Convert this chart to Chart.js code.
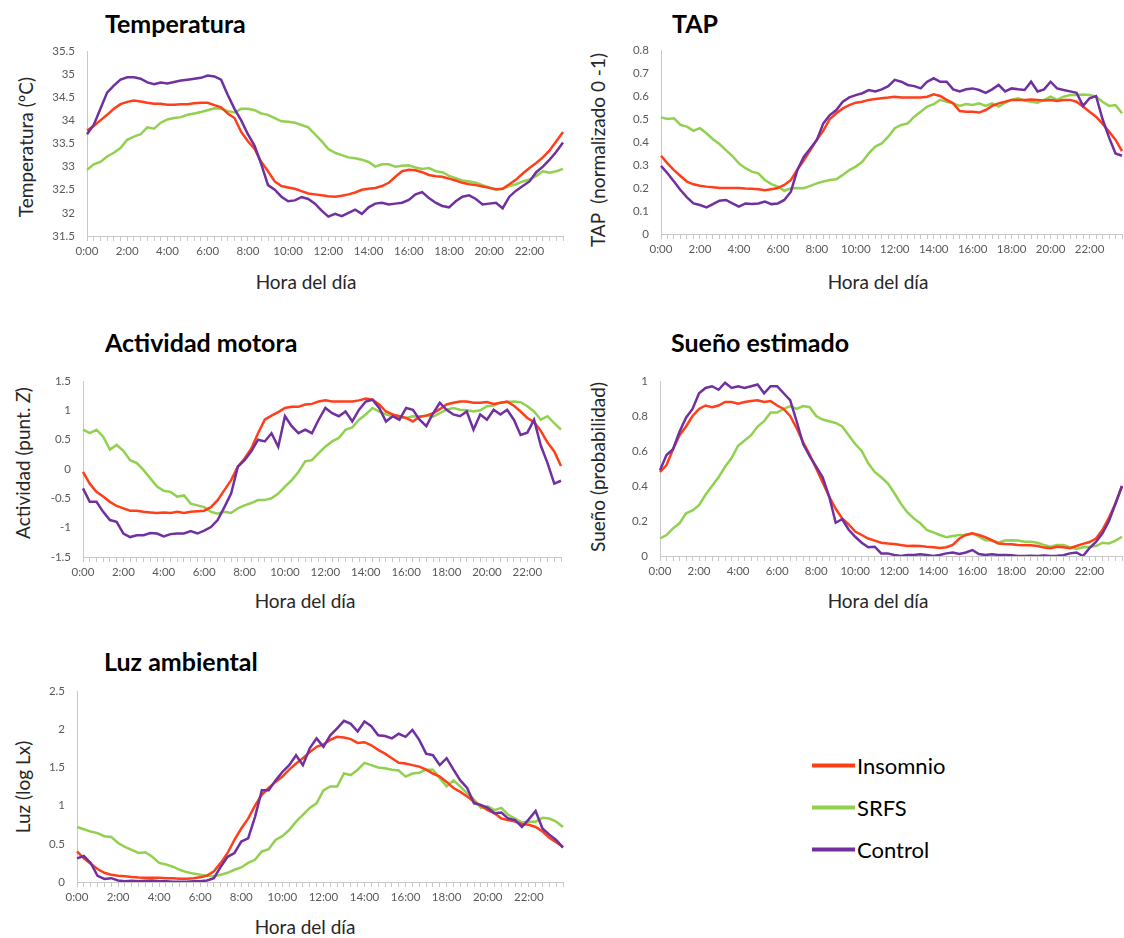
<!DOCTYPE html>
<html>
<head>
<meta charset="utf-8">
<script src="https://cdn.jsdelivr.net/npm/chart.js@4.4.1/dist/chart.umd.min.js"></script>
<style>
  body { margin: 0; background: #fff; }
  #page { position: relative; width: 1124px; height: 938px; overflow: hidden; font-family: Lato, "Open Sans", sans-serif; }
  .plot { position: absolute; }
  .head { position: absolute; font-weight: bold; font-size: 25px; color: #000; transform: translateY(-50%); white-space: nowrap; }
  .xt { position: absolute; font-size: 19px; color: #262626; transform: translate(-50%, -50%); white-space: nowrap; }
  .yt { position: absolute; font-size: 19px; color: #262626; transform: translate(-50%, -50%) rotate(-90deg); white-space: pre; }
  .leg { position: absolute; left: 812px; font-size: 22px; color: #000; display: flex; align-items: center; transform: translateY(-50%); }
  .leg span { display: inline-block; width: 43px; height: 4px; margin-right: 2px; }
</style>
</head>
<body>
<div id="page">
  <div class="head" style="left:105px;top:23px">Temperatura</div>
  <div class="head" style="left:672px;top:23px">TAP</div>
  <div class="head" style="left:105px;top:342px">Actividad motora</div>
  <div class="head" style="left:671px;top:342px">Sueño estimado</div>
  <div class="head" style="left:104px;top:661px">Luz ambiental</div>

  <div class="yt" style="left:25px;top:147px">Temperatura (ºC)</div>
  <div class="yt" style="left:597px;top:150px">TAP  (normalizado 0 -1)</div>
  <div class="yt" style="left:22px;top:463px">Actividad (punt. <i>Z</i>)</div>
  <div class="yt" style="left:597px;top:467px">Sueño (probabilidad)</div>
  <div class="yt" style="left:22px;top:787px">Luz (log Lx)</div>

  <div class="xt" style="left:306px;top:281px">Hora del día</div>
  <div class="xt" style="left:878px;top:281px">Hora del día</div>
  <div class="xt" style="left:305px;top:600px">Hora del día</div>
  <div class="xt" style="left:878px;top:600px">Hora del día</div>
  <div class="xt" style="left:305px;top:926px">Hora del día</div>

  <div class="leg" style="top:765px"><span style="background:#FF3F1A"></span>Insomnio</div>
  <div class="leg" style="top:807px"><span style="background:#92D050"></span>SRFS</div>
  <div class="leg" style="top:849px"><span style="background:#7030A0"></span>Control</div>
</div>
<script>
// etiquetas del eje x (cada 2 horas) y categorias cada 20 minutos
const hourTicks = ['0:00','2:00','4:00','6:00','8:00','10:00','12:00','14:00','16:00','18:00','20:00','22:00'];
const categories = [];
for (let i = 0; i < 72; i++) {
  const h = Math.floor(i / 3), m = (i % 3) * 20;
  categories.push(h + ':' + String(m).padStart(2, '0'));
}

const seriesNames = ['Insomnio', 'SRFS', 'Control'];
const seriesColors = ['#FF3F1A', '#92D050', '#7030A0'];

// Temperatura (ºC)
const tempInsomnio = [33.78,33.88,34.0,34.12,34.25,34.35, 34.4,34.43,34.41,34.38,34.36,34.36,
  34.34,34.34,34.35,34.35,34.37,34.38, 34.38,34.33,34.28,34.15,34.05,33.75,
  33.55,33.38,33.1,32.9,32.68,32.58, 32.55,32.52,32.47,32.42,32.4,32.38,
  32.36,32.35,32.37,32.4,32.44,32.5, 32.52,32.54,32.58,32.65,32.78,32.9,
  32.93,32.92,32.88,32.82,32.79,32.78, 32.74,32.7,32.65,32.62,32.6,32.57,
  32.54,32.51,32.52,32.62,32.72,32.85, 32.97,33.08,33.2,33.35,33.55,33.75];
const tempSRFS = [32.93,33.05,33.1,33.22,33.3,33.4, 33.58,33.65,33.7,33.85,33.82,33.95,
  34.02,34.05,34.07,34.12,34.15,34.18, 34.22,34.26,34.25,34.2,34.17,34.25,
  34.25,34.22,34.15,34.12,34.05,33.98, 33.97,33.95,33.9,33.85,33.7,33.55,
  33.38,33.3,33.25,33.2,33.18,33.15, 33.1,33.0,33.05,33.05,33.0,33.02,
  33.03,32.98,32.95,32.97,32.9,32.88, 32.8,32.75,32.7,32.68,32.65,32.6,
  32.55,32.5,32.52,32.58,32.62,32.68, 32.72,32.8,32.9,32.87,32.9,32.95];
const tempControl = [33.7,33.9,34.25,34.6,34.75,34.88, 34.93,34.93,34.9,34.82,34.78,34.82,
  34.8,34.83,34.86,34.88,34.9,34.92, 34.97,34.95,34.88,34.55,34.25,34.0,
  33.7,33.45,33.05,32.6,32.5,32.35, 32.25,32.27,32.34,32.3,32.2,32.05,
  31.92,31.98,31.93,32.0,32.07,31.98, 32.12,32.2,32.22,32.18,32.2,32.22,
  32.28,32.4,32.45,32.32,32.22,32.15, 32.12,32.25,32.35,32.38,32.3,32.18,
  32.2,32.22,32.1,32.35,32.48,32.58, 32.68,32.88,33.0,33.15,33.32,33.52];

// TAP (normalizado 0-1)
const tapInsomnio = [0.34,0.307,0.278,0.252,0.228,0.216, 0.21,0.206,0.203,0.2,0.2,0.2,
  0.2,0.198,0.197,0.195,0.19,0.195, 0.2,0.213,0.235,0.28,0.32,0.365,
  0.41,0.45,0.5,0.525,0.546,0.56, 0.571,0.575,0.583,0.587,0.59,0.593,
  0.597,0.593,0.593,0.594,0.593,0.597, 0.607,0.6,0.583,0.568,0.535,0.532,
  0.532,0.528,0.539,0.557,0.568,0.575, 0.583,0.583,0.583,0.585,0.583,0.58,
  0.583,0.578,0.583,0.583,0.575,0.554, 0.532,0.51,0.48,0.445,0.41,0.36];
const tapSRFS = [0.507,0.5,0.503,0.474,0.467,0.449, 0.46,0.438,0.412,0.391,0.365,0.339,
  0.307,0.286,0.271,0.264,0.235,0.217, 0.206,0.188,0.199,0.2,0.199,0.209,
  0.22,0.228,0.235,0.238,0.257,0.278, 0.293,0.314,0.351,0.38,0.394,0.423,
  0.46,0.474,0.481,0.51,0.532,0.554, 0.565,0.583,0.575,0.568,0.557,0.565,
  0.561,0.568,0.557,0.568,0.554,0.571, 0.583,0.59,0.58,0.575,0.571,0.583,
  0.597,0.583,0.597,0.604,0.604,0.607, 0.604,0.597,0.575,0.557,0.561,0.525];
const tapControl = [0.296,0.264,0.228,0.191,0.159,0.133, 0.126,0.116,0.13,0.145,0.148,0.133,
  0.119,0.133,0.13,0.133,0.141,0.13, 0.133,0.148,0.184,0.278,0.336,0.372,
  0.409,0.481,0.517,0.539,0.575,0.594, 0.604,0.612,0.626,0.62,0.629,0.643,
  0.67,0.662,0.648,0.643,0.633,0.662, 0.677,0.662,0.662,0.629,0.62,0.629,
  0.633,0.626,0.614,0.629,0.648,0.62, 0.633,0.629,0.626,0.662,0.62,0.629,
  0.662,0.633,0.626,0.62,0.614,0.557, 0.59,0.6,0.5,0.42,0.35,0.34];

// Actividad motora (puntuación Z)
const actInsomnio = [-0.05,-0.25,-0.39,-0.47,-0.56,-0.63, -0.67,-0.71,-0.71,-0.73,-0.74,-0.75,
  -0.74,-0.75,-0.73,-0.75,-0.73,-0.72, -0.71,-0.65,-0.53,-0.36,-0.19,0.04,
  0.18,0.35,0.61,0.84,0.91,0.97, 1.04,1.06,1.06,1.1,1.11,1.15,
  1.17,1.15,1.15,1.15,1.15,1.17, 1.2,1.18,1.1,0.98,0.93,0.9,
  0.87,0.81,0.89,0.91,0.95,1.02, 1.1,1.13,1.15,1.15,1.13,1.13,
  1.14,1.11,1.13,1.15,1.08,0.98, 0.87,0.8,0.65,0.45,0.3,0.05];
const actSRFS = [0.67,0.61,0.67,0.55,0.33,0.41, 0.31,0.15,0.1,-0.02,-0.16,-0.3,
  -0.37,-0.39,-0.47,-0.45,-0.59,-0.62, -0.65,-0.73,-0.76,-0.73,-0.75,-0.67,
  -0.62,-0.58,-0.53,-0.53,-0.5,-0.42, -0.3,-0.19,-0.05,0.13,0.15,0.27,
  0.38,0.47,0.53,0.67,0.71,0.84, 0.93,1.04,0.98,0.93,0.9,0.89,
  0.87,0.9,0.89,0.91,0.89,0.95, 1.01,1.04,1.01,1.0,0.98,1.0,
  1.07,1.08,1.13,1.14,1.15,1.14, 1.07,0.98,0.84,0.9,0.78,0.67];
const actControl = [-0.33,-0.56,-0.56,-0.73,-0.87,-0.9, -1.1,-1.16,-1.13,-1.13,-1.09,-1.1,
  -1.15,-1.11,-1.1,-1.1,-1.06,-1.1, -1.05,-0.99,-0.87,-0.65,-0.42,0.04,
  0.15,0.3,0.5,0.47,0.61,0.38, 0.9,0.73,0.61,0.67,0.61,0.84,
  1.04,0.95,0.9,0.98,0.81,1.01, 1.15,1.18,1.04,0.81,0.9,0.84,
  1.04,1.01,0.84,0.73,0.95,1.13, 1.01,0.93,0.9,0.98,0.67,0.93,
  0.84,1.01,0.93,1.01,0.84,0.58, 0.62,0.84,0.4,0.1,-0.25,-0.2];

// Sueño estimado (probabilidad)
const suenoInsomnio = [0.48,0.52,0.61,0.69,0.74,0.8, 0.84,0.86,0.85,0.86,0.88,0.88,
  0.87,0.88,0.886,0.89,0.88,0.886, 0.86,0.84,0.8,0.73,0.65,0.58,
  0.5,0.42,0.34,0.27,0.215,0.18, 0.14,0.12,0.1,0.088,0.076,0.072,
  0.069,0.063,0.057,0.059,0.057,0.053, 0.05,0.046,0.05,0.063,0.1,0.12,
  0.13,0.12,0.107,0.09,0.072,0.069, 0.067,0.063,0.061,0.061,0.057,0.048,
  0.044,0.053,0.05,0.044,0.057,0.069, 0.08,0.1,0.15,0.22,0.3,0.4];
const suenoSRFS = [0.1,0.12,0.158,0.187,0.244,0.26, 0.29,0.35,0.4,0.45,0.51,0.56,
  0.63,0.66,0.69,0.74,0.77,0.82, 0.82,0.84,0.857,0.84,0.857,0.85,
  0.8,0.78,0.77,0.76,0.74,0.69, 0.64,0.6,0.53,0.48,0.45,0.415,
  0.36,0.3,0.25,0.215,0.187,0.149, 0.135,0.12,0.107,0.114,0.12,0.12,
  0.13,0.11,0.09,0.088,0.076,0.088, 0.09,0.088,0.082,0.082,0.076,0.063,
  0.053,0.063,0.063,0.05,0.04,0.05, 0.053,0.057,0.076,0.072,0.088,0.11];
const suenoControl = [0.49,0.577,0.61,0.71,0.79,0.84, 0.93,0.96,0.97,0.95,0.99,0.96,
  0.97,0.96,0.97,0.98,0.93,0.97, 0.97,0.93,0.89,0.77,0.64,0.57,
  0.51,0.45,0.34,0.19,0.21,0.15, 0.11,0.076,0.05,0.053,0.015,0.015,
  0.006,0,0.006,0.006,0.01,0.006, 0,0.006,0.015,0.02,0.011,0.02,
  0.034,0.011,0.006,0.01,0.006,0.006, 0.004,0,0,0.002,0,0.003,
  0,0.002,0.005,0.015,0.02,0, 0.045,0.08,0.13,0.2,0.3,0.4];

// Luz ambiental (log Lx)
const luzInsomnio = [0.4,0.31,0.24,0.17,0.12,0.096, 0.083,0.074,0.065,0.06,0.057,0.057,
  0.057,0.048,0.048,0.043,0.043,0.048, 0.061,0.083,0.14,0.25,0.38,0.55,
  0.7,0.83,1.0,1.14,1.23,1.31, 1.38,1.47,1.55,1.62,1.7,1.77,
  1.8,1.86,1.9,1.89,1.87,1.82, 1.83,1.79,1.73,1.68,1.62,1.56,
  1.55,1.53,1.51,1.47,1.42,1.38, 1.31,1.23,1.18,1.12,1.05,1.0,
  0.94,0.9,0.83,0.81,0.79,0.76, 0.75,0.72,0.66,0.58,0.52,0.46];
const luzSRFS = [0.72,0.69,0.66,0.64,0.6,0.59, 0.51,0.46,0.42,0.38,0.39,0.33,
  0.25,0.23,0.2,0.16,0.13,0.11, 0.096,0.083,0.074,0.096,0.12,0.16,
  0.19,0.25,0.29,0.4,0.43,0.55, 0.6,0.68,0.79,0.88,0.97,1.03,
  1.2,1.25,1.25,1.42,1.4,1.47, 1.56,1.53,1.5,1.49,1.47,1.46,
  1.38,1.42,1.43,1.47,1.47,1.36, 1.25,1.33,1.25,1.16,1.08,0.97,
  0.99,0.94,0.97,0.88,0.83,0.78, 0.79,0.79,0.84,0.83,0.79,0.72];
const luzControl = [0.31,0.34,0.25,0.08,0.04,0.05, 0.02,0.01,0.017,0.01,0.017,0.02,
  0.01,0.01,0.004,0.004,0.004,0.01, 0.01,0.02,0.05,0.2,0.33,0.38,
  0.53,0.57,0.85,1.2,1.2,1.33, 1.44,1.53,1.66,1.53,1.75,1.88,
  1.77,1.92,2.01,2.11,2.07,1.97, 2.1,2.04,1.92,1.91,1.88,1.94,
  1.9,1.99,1.86,1.68,1.66,1.53, 1.62,1.47,1.33,1.23,1.03,1.01,
  0.97,0.9,0.91,0.83,0.81,0.72, 0.82,0.93,0.7,0.62,0.55,0.45];

const panels = [
  { box: [87, 51, 563, 236],  min: 31.5, max: 35.5, step: 0.5, series: [tempInsomnio, tempSRFS, tempControl] },
  { box: [661, 50, 1122, 234], min: 0, max: 0.8, step: 0.1, series: [tapInsomnio, tapSRFS, tapControl] },
  { box: [83, 381, 561, 557], min: -1.5, max: 1.5, step: 0.5, series: [actInsomnio, actSRFS, actControl] },
  { box: [660, 381, 1122, 556], min: 0, max: 1, step: 0.2, series: [suenoInsomnio, suenoSRFS, suenoControl] },
  { box: [77, 691, 563, 882], min: 0, max: 2.5, step: 0.5, series: [luzInsomnio, luzSRFS, luzControl] }
];

const page = document.getElementById('page');
const tickFont = { family: 'Lato', size: 11.5 };
const axisGrey = '#c8c8c8';

panels.forEach(p => {
  const yW = 50, padTop = 10, padRight = 6, xH = 32;
  const [L, T, R, B] = p.box;
  const cv = document.createElement('canvas');
  cv.width = R - L + yW + padRight;
  cv.height = B - T + padTop + xH;
  cv.className = 'plot';
  cv.style.left = (L - yW) + 'px';
  cv.style.top = (T - padTop) + 'px';
  page.appendChild(cv);

  new Chart(cv, {
    type: 'line',
    data: {
      labels: categories,
      datasets: p.series.map((d, k) => ({
        label: seriesNames[k],
        data: d,
        borderColor: seriesColors[k],
        borderWidth: 2.5,
        pointRadius: 0,
        tension: 0,
        fill: false,
        order: [2, 3, 1][k]
      }))
    },
    options: {
      responsive: false,
      animation: false,
      devicePixelRatio: 1,
      layout: { padding: { top: padTop, right: padRight, left: 0, bottom: 0 } },
      plugins: { legend: { display: false }, tooltip: { enabled: false } },
      scales: {
        x: {
          grid: { display: true, drawOnChartArea: false, drawTicks: true, tickLength: 5, color: axisGrey },
          border: { display: true, color: axisGrey },
          ticks: {
            autoSkip: false, maxRotation: 0, minRotation: 0, padding: 3,
            font: tickFont, color: '#595959',
            callback: (v, i) => hourTicks.includes(categories[i]) ? categories[i] : ''
          },
          afterFit: s => { s.height = xH; }
        },
        y: {
          min: p.min, max: p.max,
          grid: { display: false, drawTicks: false },
          border: { display: true, color: axisGrey },
          ticks: {
            stepSize: p.step, padding: 12, font: tickFont, color: '#595959',
            callback: v => String(+v.toFixed(2))
          },
          // label padding would otherwise be added above the plot as well
          afterFit: s => { s.width = yW; s.paddingTop = 6; s.paddingBottom = 6; }
        }
      }
    }
  });
});
</script>
</body>
</html>
